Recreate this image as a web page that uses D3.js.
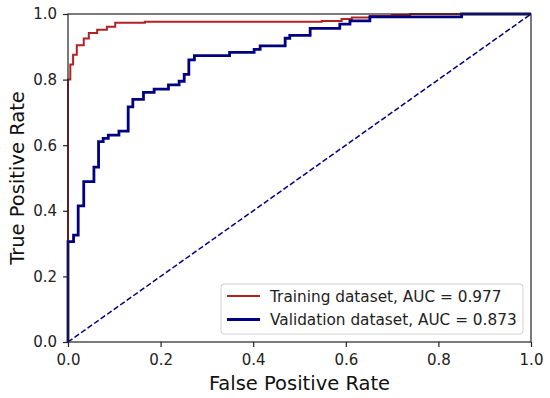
<!DOCTYPE html>
<html>
<head>
<meta charset="utf-8">
<script src="https://cdn.jsdelivr.net/npm/d3@7"></script>
<style>
  body { margin: 0; background: #fff; }
  svg { display: block; font-family: "DejaVu Sans", sans-serif; }
  .axis path, .axis line { stroke: #222; stroke-width: 1.2; }
  .axis text { font-size: 15px; fill: #222; font-family: "DejaVu Sans", sans-serif; }
</style>
</head>
<body>
<svg id="chart"></svg>
<script>
// ROC corner points (step after)
const trainFpr = [0, 0, 0.005, 0.011, 0.019, 0.034, 0.045, 0.063, 0.084, 0.102, 0.166, 0.548, 0.591, 0.613, 0.652, 0.700, 0.739, 1.0];
const trainTpr = [0, 0.80, 0.846, 0.876, 0.905, 0.925, 0.942, 0.952, 0.961, 0.973, 0.976, 0.979, 0.985, 0.989, 0.994, 0.997, 1.0, 1.0];

const valFpr = [0, 0, 0.012, 0.022, 0.034, 0.056, 0.066, 0.076, 0.087, 0.110, 0.130, 0.140, 0.163, 0.186, 0.217, 0.240, 0.251, 0.261, 0.273, 0.349, 0.402, 0.415, 0.469, 0.479, 0.523, 0.587, 0.609, 0.652, 0.850, 1.0];
const valTpr = [0, 0.306, 0.326, 0.415, 0.489, 0.533, 0.611, 0.621, 0.631, 0.643, 0.717, 0.740, 0.761, 0.771, 0.784, 0.795, 0.816, 0.860, 0.873, 0.883, 0.892, 0.903, 0.926, 0.935, 0.956, 0.969, 0.979, 0.991, 1.0, 1.0];

const chanceLine = [0, 1];
const ticks = [0, 0.2, 0.4, 0.6, 0.8, 1.0];
const seriesNames = ["Training dataset, AUC = 0.977", "Validation dataset, AUC = 0.873"];
const seriesColors = ["#b22222", "#000080"];

const W = 550, H = 398;
const margin = { top: 14, right: 19, bottom: 56, left: 68 };
const width = W - margin.left - margin.right;
const height = H - margin.top - margin.bottom;
const fmt = d3.format(".1f");

const svg = d3.select("#chart").attr("width", W).attr("height", H);
const g = svg.append("g").attr("transform", `translate(${margin.left},${margin.top})`);

const x = d3.scaleLinear().domain([0, 1]).range([0, width]);
const y = d3.scaleLinear().domain([0, 1]).range([height, 0]);

const stepLine = d3.line()
    .x(d => x(d[0]))
    .y(d => y(d[1]))
    .curve(d3.curveStepAfter);

g.append("path")
    .datum(d3.zip(trainFpr, trainTpr))
    .attr("d", stepLine)
    .attr("fill", "none")
    .attr("stroke", seriesColors[0])
    .attr("stroke-width", 2);

g.append("path")
    .datum(d3.zip(valFpr, valTpr))
    .attr("d", stepLine)
    .attr("fill", "none")
    .attr("stroke", seriesColors[1])
    .attr("stroke-width", 2.8);

g.append("path")
    .datum(d3.zip(chanceLine, chanceLine))
    .attr("d", d3.line().x(d => x(d[0])).y(d => y(d[1])))
    .attr("fill", "none")
    .attr("stroke", "#000080")
    .attr("stroke-width", 1.5)
    .attr("stroke-dasharray", "5.5,2.5");

// frame
g.append("rect")
    .attr("width", width).attr("height", height)
    .attr("fill", "none").attr("stroke", "#222").attr("stroke-width", 1.2);

g.append("g")
    .attr("class", "axis")
    .attr("transform", `translate(0,${height})`)
    .call(d3.axisBottom(x).tickValues(ticks).tickFormat(fmt).tickSize(5).tickPadding(7))
    .call(s => s.select(".domain").remove());

g.append("g")
    .attr("class", "axis")
    .call(d3.axisLeft(y).tickValues(ticks).tickFormat(fmt).tickSize(5).tickPadding(6))
    .call(s => s.select(".domain").remove());

svg.append("text")
    .attr("x", margin.left + width / 2)
    .attr("y", 390)
    .attr("text-anchor", "middle")
    .style("font-size", "19.5px")
    .attr("fill", "#111")
    .text("False Positive Rate");

svg.append("text")
    .attr("transform", `translate(24,${margin.top + height / 2}) rotate(-90)`)
    .attr("text-anchor", "middle")
    .style("font-size", "19.5px")
    .attr("fill", "#111")
    .text("True Positive Rate");

// legend
const legend = svg.append("g").attr("transform", "translate(221,284)");
legend.append("rect")
    .attr("width", 302).attr("height", 50)
    .attr("rx", 3)
    .attr("fill", "#fff").attr("fill-opacity", 0.8)
    .attr("stroke", "#d0d0d0").attr("stroke-width", 1);

seriesNames.forEach((name, i) => {
    const row = legend.append("g").attr("transform", `translate(0,${12 + i * 23.5})`);
    row.append("line")
        .attr("x1", 6).attr("x2", 39)
        .attr("stroke", seriesColors[i])
        .attr("stroke-width", i === 0 ? 2 : 2.8);
    row.append("text")
        .attr("x", 49).attr("y", 5.5)
        .style("font-size", "15.3px")
        .attr("fill", "#222")
        .text(name);
});
</script>
</body>
</html>
